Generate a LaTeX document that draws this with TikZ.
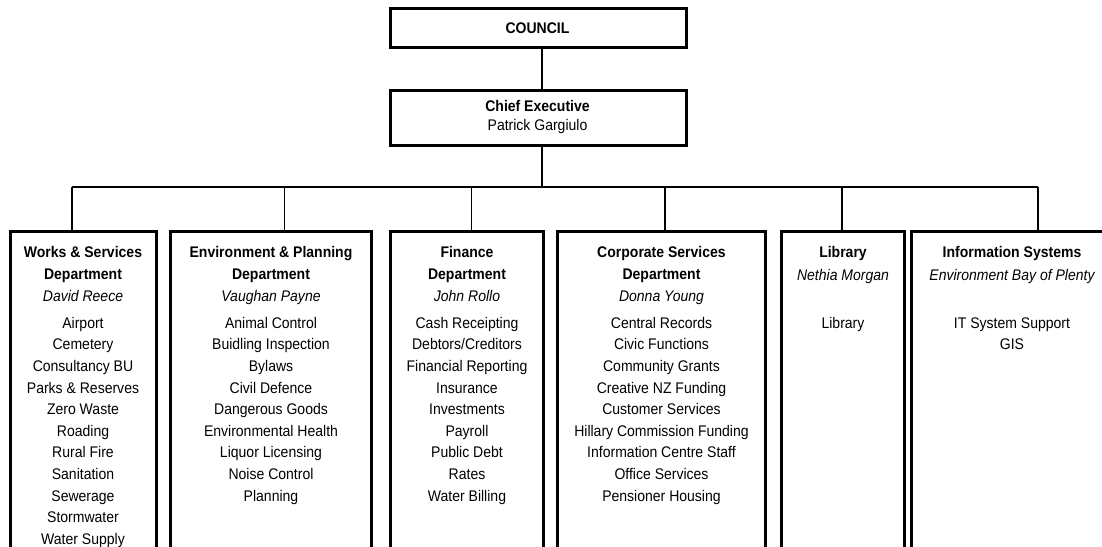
\documentclass[tikz,border=0pt]{standalone}
\usepackage{fontspec}
\setmainfont{Liberation Sans}[FakeStretch=0.91]
\begin{document}
\begin{tikzpicture}[x=1pt,y=-1pt,
  frame/.style={inner sep=0pt, anchor=north west},
  outline/.style={line width=3pt},
  link/.style={line width=1.3pt},
  txt/.style={font=\fontsize{15.4}{17}\selectfont, anchor=base, inner sep=0pt},
  head/.style={txt, font=\fontsize{15.4}{17}\selectfont\bfseries},
  who/.style={txt, font=\fontsize{15.4}{17}\selectfont\itshape}]
\useasboundingbox (0,0) rectangle (1102,546);
\clip (0,0) rectangle (1102,546);

% junction points on the horizontal bus
\coordinate (spine) at (542,187);
\coordinate (t1) at (72,187);
\coordinate (t2) at (284.5,187);
\coordinate (t3) at (471.5,187);
\coordinate (t4) at (665,187);
\coordinate (t5) at (842,187);
\coordinate (t6) at (1038,187);

% box geometry
\node[frame, minimum width=296pt, minimum height=39pt] (council) at (390,8.5) {};
\node[frame, minimum width=296pt, minimum height=55pt] (chief) at (390,90) {};
\node[frame, minimum width=146pt,   minimum height=340pt] (d1) at (10,231.5) {};
\node[frame, minimum width=201.5pt, minimum height=340pt] (d2) at (170,231.5) {};
\node[frame, minimum width=153.5pt, minimum height=340pt] (d3) at (390,231.5) {};
\node[frame, minimum width=207.5pt, minimum height=340pt] (d4) at (557.5,231.5) {};
\node[frame, minimum width=123.5pt, minimum height=340pt] (d5) at (781,231.5) {};
\node[frame, minimum width=201pt,   minimum height=340pt] (d6) at (911.5,231.5) {};

% connectors
\draw[link] (council.south -| spine) -- (chief.north -| spine);
\draw[link] (chief.south -| spine) -- (spine);
\draw[link] (t1) -- (t6);
\foreach \k in {1,...,6} \draw[link] (t\k) -- (t\k |- d\k.north);

% box outlines, drawn over the connector ends
\foreach \b in {council,chief,d1,d2,d3,d4,d5,d6}
  \draw[outline] (\b.north west) rectangle (\b.south east);

% top level texts
\node[head] (ct) at (537.5,33.3) {COUNCIL};
\node[head] (cht) at (537.5,111.7) {Chief Executive};
\node[txt] (chn) at (537.5,130.5) {Patrick Gargiulo};

% Works & Services
\node[head] (h1a) at (83,257.7) {Works \& Services};
\node[head] (h1b) at (83,279.5) {Department};
\node[who]  (n1)  at (83,301) {David Reece};
\foreach \t [count=\i] in {Airport,Cemetery,Consultancy BU,Parks \& Reserves,Zero Waste,Roading,Rural Fire,Sanitation,Sewerage,Stormwater,Water Supply}
  \node[txt] (a\i) at (83,306.7+21.6*\i) {\t};

% Environment & Planning
\node[head] (h2a) at (271,257.7) {Environment \& Planning};
\node[head] (h2b) at (271,279.5) {Department};
\node[who]  (n2)  at (271,301) {Vaughan Payne};
\foreach \t [count=\i] in {Animal Control,Buidling Inspection,Bylaws,Civil Defence,Dangerous Goods,Environmental Health,Liquor Licensing,Noise Control,Planning}
  \node[txt] (b\i) at (271,306.7+21.6*\i) {\t};

% Finance
\node[head] (h3a) at (467,257.7) {Finance};
\node[head] (h3b) at (467,279.5) {Department};
\node[who]  (n3)  at (467,301) {John Rollo};
\foreach \t [count=\i] in {Cash Receipting,Debtors/Creditors,Financial Reporting,Insurance,Investments,Payroll,Public Debt,Rates,Water Billing}
  \node[txt] (c\i) at (467,306.7+21.6*\i) {\t};

% Corporate Services
\node[head] (h4a) at (661.5,257.7) {Corporate Services};
\node[head] (h4b) at (661.5,279.5) {Department};
\node[who]  (n4)  at (661.5,301) {Donna Young};
\foreach \t [count=\i] in {Central Records,Civic Functions,Community Grants,Creative NZ Funding,Customer Services,Hillary Commission Funding,Information Centre Staff,Office Services,Pensioner Housing}
  \node[txt] (e\i) at (661.5,306.7+21.6*\i) {\t};

% Library
\node[head] (h5a) at (843,257.7) {Library};
\node[who]  (n5)  at (843,280) {Nethia Morgan};
\node[txt]  (f1)  at (843,328.3) {Library};

% Information Systems
\node[head] (h6a) at (1012,257.7) {Information Systems};
\node[who]  (n6)  at (1012,280) {Environment Bay of Plenty};
\foreach \t [count=\i] in {IT System Support,GIS}
  \node[txt] (g\i) at (1012,306.7+21.6*\i) {\t};
\end{tikzpicture}
\end{document}
